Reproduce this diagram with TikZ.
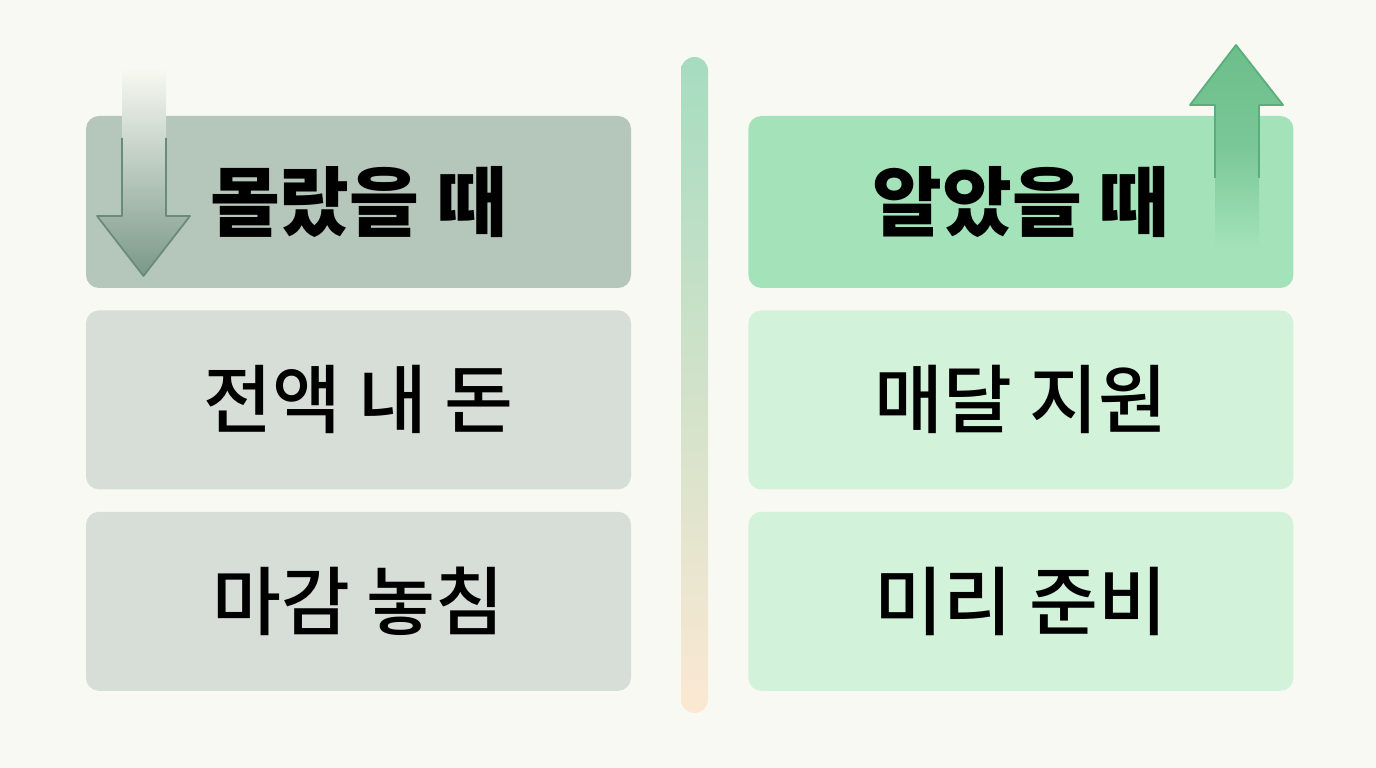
\documentclass[tikz,border=0pt]{standalone}
\usepackage{fontspec}
\setmainfont{Noto Sans CJK KR}
\newfontfamily\krmed{Noto Sans CJK KR Medium}
\usetikzlibrary{positioning}

\definecolor{bgcol}{HTML}{F8F9F2}
\definecolor{grayhead}{HTML}{B5C6BB}
\definecolor{graybox}{HTML}{D6DED7}
\definecolor{greenhead}{HTML}{A4E3BA}
\definecolor{greenbox}{HTML}{D2F2D9}
\definecolor{downarrow}{HTML}{7A9888}
\definecolor{downedge}{HTML}{6A8A7A}
\definecolor{uparrow}{HTML}{6CBE8B}
\definecolor{upedge}{HTML}{5AAE7B}
\definecolor{bartop}{HTML}{A6DCC0}
\definecolor{barbot}{HTML}{FCE8D3}

\begin{document}
\begin{tikzpicture}[
    node distance=2.1mm,
    box/.style={rectangle,rounded corners=1.3mm,align=center,minimum width=5.45cm,minimum height=1.79cm,inner sep=0pt,font=\fontsize{21.3}{26}\selectfont\krmed},
    headbox/.style={box,minimum height=1.72cm,font=\fontsize{21.6}{26}\selectfont\bfseries}
]
\useasboundingbox[fill=bgcol] (0,0) rectangle (13.76,7.68);

% 가운데 막대
\shade[top color=bartop,bottom color=barbot,rounded corners=1.35mm] (6.81,0.55) rectangle (7.08,7.11);

% 왼쪽 열
\node[headbox,fill=grayhead] (LH) at (3.585,5.66) {몰랐을 때};
\node[box,fill=graybox,below=of LH] (L1) {전액 내 돈};
\node[box,fill=graybox,below=of L1] (L2) {마감 놓침};

% 오른쪽 열
\node[headbox,fill=greenhead,right=11.6mm of LH] (RH) {알았을 때};
\node[box,fill=greenbox,below=of RH] (R1) {매달 지원};
\node[box,fill=greenbox,below=of R1] (R2) {미리 준비};

% 화살표
\shade[top color=bgcol,bottom color=downarrow,shading angle=0]
    (1.22,7.00) -- (1.66,7.00) -- (1.66,5.52) -- (1.90,5.52) -- (1.435,4.92) -- (0.97,5.52) -- (1.22,5.52) -- cycle;
\draw[downedge,line width=0.5pt,line join=round]
    (1.66,6.3) -- (1.66,5.52) -- (1.90,5.52) -- (1.435,4.92) -- (0.97,5.52) -- (1.22,5.52) -- (1.22,6.3);

\shade[top color=uparrow,bottom color=greenhead,middle color=uparrow!75!greenhead]
    (12.15,5.18) -- (12.15,6.63) -- (11.90,6.63) -- (12.36,7.23) -- (12.83,6.63) -- (12.59,6.63) -- (12.59,5.18) -- cycle;
\draw[upedge,line width=0.5pt,line join=round]
    (12.15,5.9) -- (12.15,6.63) -- (11.90,6.63) -- (12.36,7.23) -- (12.83,6.63) -- (12.59,6.63) -- (12.59,5.9);

\end{tikzpicture}
\end{document}
